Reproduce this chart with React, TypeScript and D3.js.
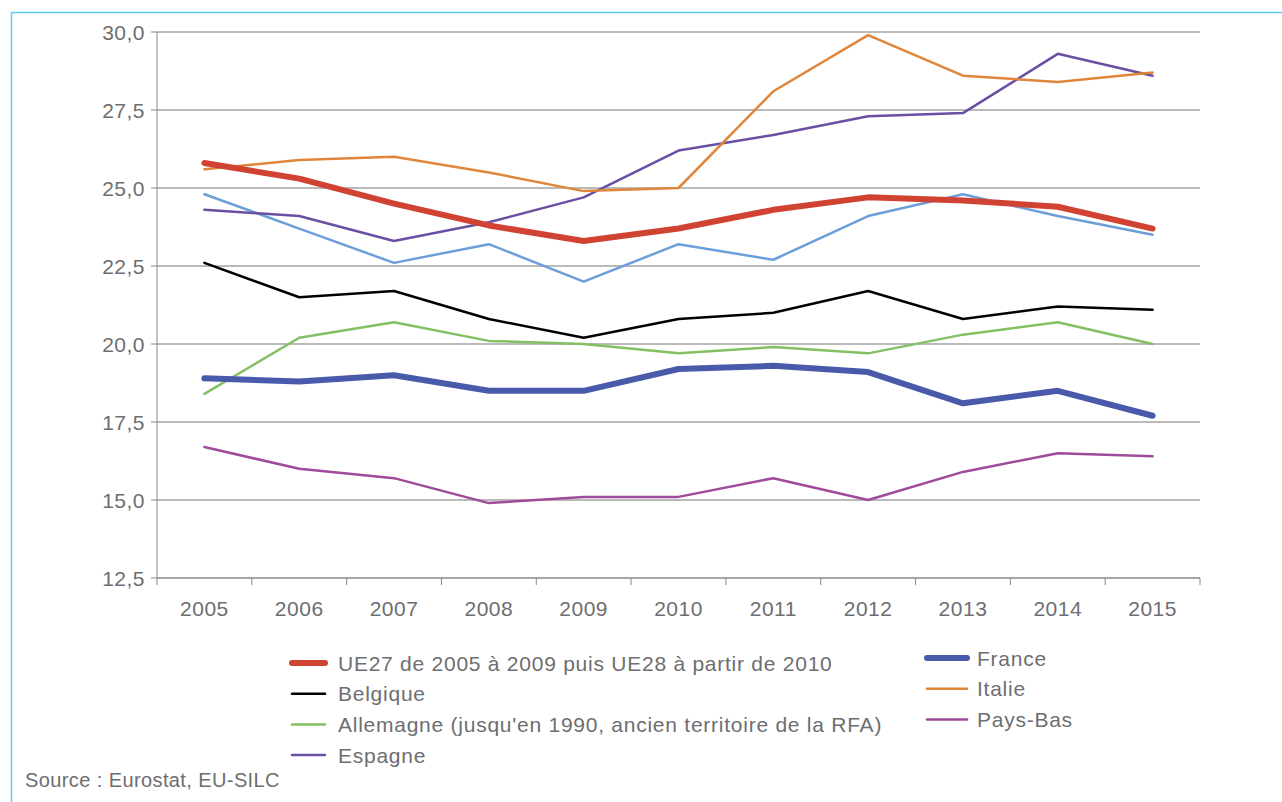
import React from "react";
import * as d3 from "d3";

const years = ["2005", "2006", "2007", "2008", "2009", "2010", "2011", "2012", "2013", "2014", "2015"];
const yTicks = [12.5, 15, 17.5, 20, 22.5, 25, 27.5, 30];

const ue = [25.8, 25.3, 24.5, 23.8, 23.3, 23.7, 24.3, 24.7, 24.6, 24.4, 23.7];
const belgique = [22.6, 21.5, 21.7, 20.8, 20.2, 20.8, 21.0, 21.7, 20.8, 21.2, 21.1];
const allemagne = [18.4, 20.2, 20.7, 20.1, 20.0, 19.7, 19.9, 19.7, 20.3, 20.7, 20.0];
const espagne = [24.3, 24.1, 23.3, 23.9, 24.7, 26.2, 26.7, 27.3, 27.4, 29.3, 28.6];
const france = [18.9, 18.8, 19.0, 18.5, 18.5, 19.2, 19.3, 19.1, 18.1, 18.5, 17.7];
const italie = [25.6, 25.9, 26.0, 25.5, 24.9, 25.0, 28.1, 29.9, 28.6, 28.4, 28.7];
const paysBas = [16.7, 16.0, 15.7, 14.9, 15.1, 15.1, 15.7, 15.0, 15.9, 16.5, 16.4];
const royaumeUni = [24.8, 23.7, 22.6, 23.2, 22.0, 23.2, 22.7, 24.1, 24.8, 24.1, 23.5];

const series = [
  { name: "Royaume-Uni", values: royaumeUni, color: "#6c9fd9", width: 2.5, legend: false },
  { name: "Pays-Bas", values: paysBas, color: "#a04a9c", width: 2.5, legend: true },
  { name: "Allemagne (jusqu'en 1990, ancien territoire de la RFA)", values: allemagne, color: "#82c063", width: 2.5, legend: true },
  { name: "Belgique", values: belgique, color: "#000000", width: 2.5, legend: true },
  { name: "Espagne", values: espagne, color: "#6a4fa3", width: 2.5, legend: true },
  { name: "Italie", values: italie, color: "#e0863a", width: 2.5, legend: true },
  { name: "France", values: france, color: "#4a5aaa", width: 6, legend: true },
  { name: "UE27 de 2005 à 2009 puis UE28 à partir de 2010", values: ue, color: "#d04232", width: 6, legend: true },
];

const leftLegend = ["UE27 de 2005 à 2009 puis UE28 à partir de 2010", "Belgique", "Allemagne (jusqu'en 1990, ancien territoire de la RFA)", "Espagne"];
const rightLegend = ["France", "Italie", "Pays-Bas"];

export default function App() {
  const W = 1282, H = 802;
  const left = 157, right = 1200, top = 32, bottom = 578;
  const x = d3.scaleBand<string>().domain(years).range([left, right]);
  const y = d3.scaleLinear().domain([12.5, 30]).range([bottom, top]);
  const cx = (yr: string) => (x(yr) as number) + x.bandwidth() / 2;
  const line = d3.line<number>().x((_, i) => cx(years[i])).y((v) => y(v));
  const font = "'Liberation Sans', Arial, Helvetica, sans-serif";
  const textColor = "#6d6e71";
  const byName = (n: string) => series.find((s) => s.name === n)!;
  const edges = years.map((yr) => x(yr) as number).concat([right]);

  return (
    <svg width={W} height={H} style={{ position: "absolute", left: 0, top: 0 }} fontFamily={font}>
      <rect x={0} y={0} width={W} height={H} fill="#fff" />
      <path d={`M11.5,${H} L11.5,12.5 L${W},12.5`} fill="none" stroke="#5fcdf3" strokeWidth={1.5} />
      {yTicks.map((t) => (
        <g key={t}>
          {t > 12.5 && <line x1={left} x2={right} y1={y(t)} y2={y(t)} stroke="#a3a3a3" strokeWidth={1.5} />}
          <line x1={left - 6} x2={left} y1={y(t)} y2={y(t)} stroke="#888" strokeWidth={1} />
          <text x={left - 12} y={y(t)} dy="0.36em" textAnchor="end" fontSize={21} letterSpacing={0.5} fill={textColor}>
            {d3.format(".1f")(t).replace(".", ",")}
          </text>
        </g>
      ))}
      <line x1={left} x2={left} y1={top} y2={bottom} stroke="#888" strokeWidth={1} />
      <line x1={left} x2={right} y1={bottom} y2={bottom} stroke="#888" strokeWidth={1.5} />
      {edges.map((e, i) => (
        <line key={i} x1={e} x2={e} y1={bottom} y2={bottom + 7} stroke="#888" strokeWidth={1} />
      ))}
      {years.map((yr) => (
        <text key={yr} x={cx(yr)} y={616} textAnchor="middle" fontSize={21} letterSpacing={0.5} fill={textColor}>
          {yr}
        </text>
      ))}
      {series.map((s) => (
        <path key={s.name} d={line(s.values) || ""} fill="none" stroke={s.color} strokeWidth={s.width} strokeLinejoin="round" strokeLinecap="round" />
      ))}
      {leftLegend.map((n, i) => {
        const s = byName(n);
        const yy = 663 + i * 30.7;
        return (
          <g key={n}>
            <line x1={292} x2={325} y1={yy} y2={yy} stroke={s.color} strokeWidth={s.width} strokeLinecap="round" />
            <text x={338} y={yy} dy="0.36em" fontSize={21} letterSpacing={0.75} fill={textColor}>{n}</text>
          </g>
        );
      })}
      {rightLegend.map((n, i) => {
        const s = byName(n);
        const yy = 658 + i * 30.7;
        return (
          <g key={n}>
            <line x1={927} x2={967} y1={yy} y2={yy} stroke={s.color} strokeWidth={s.width} strokeLinecap="round" />
            <text x={977} y={yy} dy="0.36em" fontSize={21} letterSpacing={0.75} fill={textColor}>{n}</text>
          </g>
        );
      })}
      <text x={25} y={787} fontSize={20} letterSpacing={0.4} fill={textColor}>Source : Eurostat, EU-SILC</text>
    </svg>
  );
}
